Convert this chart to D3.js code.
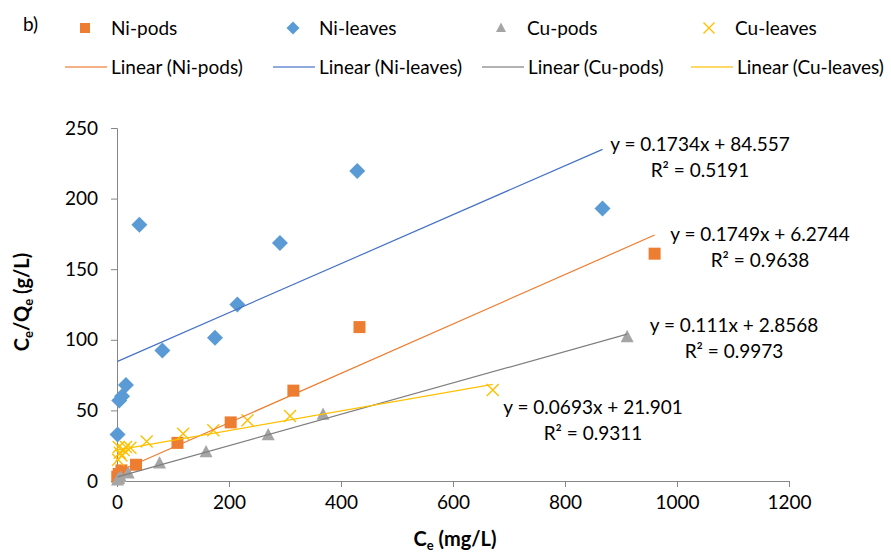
<!DOCTYPE html>
<html><head><meta charset="utf-8">
<script src="https://cdn.jsdelivr.net/npm/d3@7"></script>
<style>body{margin:0;background:#fff;} svg{display:block;} text{font-family:Lato, "Open Sans", sans-serif; fill:#000;}</style>
</head><body>
<svg id="c" width="891" height="554"></svg>
<script>
// ---- data ----
const seriesNames = ["Ni-pods", "Ni-leaves", "Cu-pods", "Cu-leaves"];
const niPodsX = [0.5, 3, 8, 34, 108, 203, 315, 433, 960];
const niPodsY = [3, 5, 7.5, 11.5, 27, 41.5, 64, 109, 161];
const niLeavesX = [1, 4, 9, 16, 40, 81, 175, 215, 291, 429, 867];
const niLeavesY = [33, 57, 60, 68, 181.5, 92.5, 101.5, 125, 168.5, 219.5, 193];
const cuPodsX = [1, 3, 6, 20, 76, 159, 270, 368, 911];
const cuPodsY = [0.5, 1.5, 3, 5.5, 12.5, 20.5, 32.5, 47, 102];
const cuLeavesX = [2, 3, 5, 8, 12, 16, 24, 53, 118, 172, 233, 309, 671];
const cuLeavesY = [15, 24, 20, 18, 22, 24, 23.5, 28, 33.5, 36, 43, 46, 64.5];
const slopes = [0.1749, 0.1734, 0.111, 0.0693];
const intercepts = [6.2744, 84.557, 2.8568, 21.901];
const eqLabels = ["y = 0.1749x + 6.2744", "y = 0.1734x + 84.557", "y = 0.111x + 2.8568", "y = 0.0693x + 21.901"];
const r2Labels = ["R² = 0.9638", "R² = 0.5191", "R² = 0.9973", "R² = 0.9311"];
const xTicks = [0, 200, 400, 600, 800, 1000, 1200];
const yTicks = [0, 50, 100, 150, 200, 250];

// ---- styling / layout ----
const FS = 19;
const markerColors = ["#ED7D31", "#5B9BD5", "#A5A5A5", "#FFC000"];
const lineColors = ["#ED7D31", "#4472C4", "#7F7F7F", "#FFC000"];
const shapes = ["square", "diamond", "triangle", "x"];
const eqPos = [[760, 234], [700, 144], [734, 325], [593, 407]]; // label centers (px)

const svg = d3.select("#c");
const x = d3.scaleLinear().domain([0, 1200]).range([117, 789]);
const y = d3.scaleLinear().domain([0, 250]).range([481, 128]);

const data = [
  d3.zip(niPodsX, niPodsY), d3.zip(niLeavesX, niLeavesY),
  d3.zip(cuPodsX, cuPodsY), d3.zip(cuLeavesX, cuLeavesY)
];

// axes
const xAxis = svg.append("g").attr("transform", `translate(0,${y(0)})`)
  .call(d3.axisBottom(x).tickValues(xTicks).tickSize(6).tickPadding(9).tickFormat(d3.format("d")));
const yAxis = svg.append("g").attr("transform", `translate(${x(0)},0)`)
  .call(d3.axisLeft(y).tickValues(yTicks).tickSize(6).tickPadding(13).tickFormat(d3.format("d")));
[xAxis, yAxis].forEach(g => {
  g.select(".domain").attr("stroke", "#868686").attr("stroke-width", 1);
  g.selectAll(".tick line").attr("stroke", "#868686");
  g.selectAll(".tick text").attr("font-size", FS).attr("fill", "#000").style("font-family", "Lato");
});

function marker(sel, shape, color, s) {
  if (shape === "square") {
    sel.append("rect").attr("x", -s/2).attr("y", -s/2).attr("width", s).attr("height", s).attr("fill", color);
  } else if (shape === "diamond") {
    const h = s / 2;
    sel.append("path").attr("d", `M0,${-h}L${h},0L0,${h}L${-h},0Z`).attr("fill", color);
  } else if (shape === "triangle") {
    sel.append("path").attr("d", `M0,${-s*0.55}L${s/2},${s*0.4}L${-s/2},${s*0.4}Z`).attr("fill", color);
  } else {
    const h = s / 2;
    sel.append("path").attr("d", `M${-h},${-h}L${h},${h}M${-h},${h}L${h},${-h}`)
      .attr("stroke", color).attr("stroke-width", 1.4).attr("fill", "none");
  }
}

const sizes = [12, 16, 13, 12];

// points
data.forEach((pts, i) => {
  const g = svg.append("g");
  pts.forEach(p => {
    const m = g.append("g").attr("transform", `translate(${x(p[0])},${y(p[1])})`);
    marker(m, shapes[i], markerColors[i], sizes[i]);
  });
});

// trendlines
data.forEach((pts, i) => {
  const xs = d3.extent(pts, d => d[0]);
  svg.append("line")
    .attr("x1", x(xs[0])).attr("y1", y(slopes[i] * xs[0] + intercepts[i]))
    .attr("x2", x(xs[1])).attr("y2", y(slopes[i] * xs[1] + intercepts[i]))
    .attr("stroke", lineColors[i]).attr("stroke-width", 1.2);
});

// equation labels
eqLabels.forEach((t, i) => {
  svg.append("text").attr("x", eqPos[i][0]).attr("y", eqPos[i][1]).attr("dy", "0.35em")
    .attr("text-anchor", "middle").attr("font-size", FS).text(t);
  svg.append("text").attr("x", eqPos[i][0]).attr("y", eqPos[i][1] + 26).attr("dy", "0.35em")
    .attr("text-anchor", "middle").attr("font-size", FS).text(r2Labels[i]);
});

// axis titles
const xt = svg.append("text").attr("x", 455).attr("y", 546).attr("text-anchor", "middle")
  .attr("font-size", 20).attr("font-weight", "bold");
xt.append("tspan").text("C");
xt.append("tspan").attr("font-size", 13).attr("dy", 4).text("e");
xt.append("tspan").attr("dy", -4).text(" (mg/L)");

const yt = svg.append("text").attr("transform", "translate(29,302) rotate(-90)").attr("text-anchor", "middle")
  .attr("font-size", 20).attr("font-weight", "bold");
yt.append("tspan").text("C");
yt.append("tspan").attr("font-size", 13).attr("dy", 4).text("e");
yt.append("tspan").attr("dy", -4).text("/Q");
yt.append("tspan").attr("font-size", 13).attr("dy", 4).text("e");
yt.append("tspan").attr("dy", -4).text(" (g/L)");

// panel label
svg.append("text").attr("x", 23).attr("y", 24).attr("dy", "0.35em").attr("font-size", FS).text("b)");

// legend
const legX1 = [85, 293, 501, 709];
const legX2 = [65, 273, 482, 691];
const legSizes = [10, 13, 10, 11];
seriesNames.forEach((n, i) => {
  const m = svg.append("g").attr("transform", `translate(${legX1[i]},28)`);
  marker(m, shapes[i], markerColors[i], legSizes[i]);
  svg.append("text").attr("x", legX1[i] + 26).attr("y", 28).attr("dy", "0.35em").attr("font-size", FS).text(n);
  svg.append("line").attr("x1", legX2[i]).attr("x2", legX2[i] + 42).attr("y1", 67).attr("y2", 67)
    .attr("stroke", lineColors[i]).attr("stroke-width", 2).attr("stroke-opacity", 0.6);
  svg.append("text").attr("x", legX2[i] + 46).attr("y", 67).attr("dy", "0.35em").attr("font-size", FS)
    .text(`Linear (${n})`);
});
</script>
</body></html>
